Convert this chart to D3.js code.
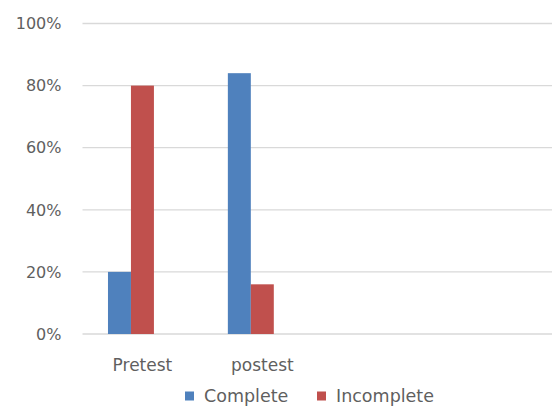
<!DOCTYPE html>
<html>
<head>
<meta charset="utf-8">
<script src="https://cdn.jsdelivr.net/npm/d3@7"></script>
<style>
  body { margin: 0; background: #fff; }
  text { font-family: "DejaVu Sans", sans-serif; fill: #5f5f5f; }
</style>
</head>
<body>
<svg id="chart" width="552" height="407"></svg>
<script>
// Chart data
const categories = ["Pretest", "postest", "", ""];
const seriesNames = ["Complete", "Incomplete"];
const completeValues = [0.20, 0.84, null, null];
const incompleteValues = [0.80, 0.16, null, null];
const yTicks = [0, 0.2, 0.4, 0.6, 0.8, 1.0];
const colors = ["#4F81BD", "#C0504D"];

const svg = d3.select("#chart");
const margin = { top: 23.5, right: -10, bottom: 73, left: 82.5 };
const width = 552 - margin.left - margin.right;
const height = 407 - margin.top - margin.bottom;

const g = svg.append("g")
  .attr("transform", `translate(${margin.left},${margin.top})`);

const x0 = d3.scaleBand().domain(d3.range(categories.length)).range([0, width]).padding(0);
// third slot is an empty series, so each pair sits left of the category centre like the original
const x1 = d3.scaleBand().domain([0, 1, 2]).range([0, x0.bandwidth()])
  .paddingInner(0).paddingOuter(1.109);

const y = d3.scaleLinear().domain([0, 1]).range([height, 0]);

// gridlines
g.selectAll(".grid")
  .data(yTicks)
  .enter().append("line")
  .attr("x1", 0).attr("x2", width)
  .attr("y1", d => y(d)).attr("y2", d => y(d))
  .attr("stroke", "#d9d9d9").attr("stroke-width", 1.3);

// y tick labels
g.selectAll(".ytick")
  .data(yTicks)
  .enter().append("text")
  .attr("x", -21).attr("y", d => y(d)).attr("dy", "0.36em")
  .attr("text-anchor", "end")
  .style("font-size", "16px")
  .text(d3.format(".0%"));

const seriesData = [completeValues, incompleteValues];
seriesData.forEach((vals, s) => {
  g.selectAll(".bar" + s)
    .data(vals.map((v, i) => ({ v, i })).filter(d => d.v != null))
    .enter().append("rect")
    .attr("x", d => x0(d.i) + x1(s))
    .attr("width", x1.bandwidth())
    .attr("y", d => y(d.v))
    .attr("height", d => height - y(d.v))
    .attr("fill", colors[s]);
});

// category labels
g.selectAll(".xlab")
  .data(categories)
  .enter().append("text")
  .attr("x", (d, i) => x0(i) + x0.bandwidth() / 2)
  .attr("y", height + 31).attr("dy", "0.36em")
  .attr("text-anchor", "middle")
  .style("font-size", "17px")
  .text(d => d);

// legend
const legend = svg.append("g").attr("transform", "translate(185,396)");
const legendX = [0, 132];
seriesNames.forEach((name, i) => {
  const item = legend.append("g").attr("transform", `translate(${legendX[i]},0)`);
  item.append("rect").attr("x", 0).attr("y", -4.5).attr("width", 9).attr("height", 9).attr("fill", colors[i]);
  item.append("text").attr("x", 19).attr("y", 0).attr("dy", "0.36em")
    .style("font-size", "17.5px").text(name);
});
</script>
</body>
</html>
